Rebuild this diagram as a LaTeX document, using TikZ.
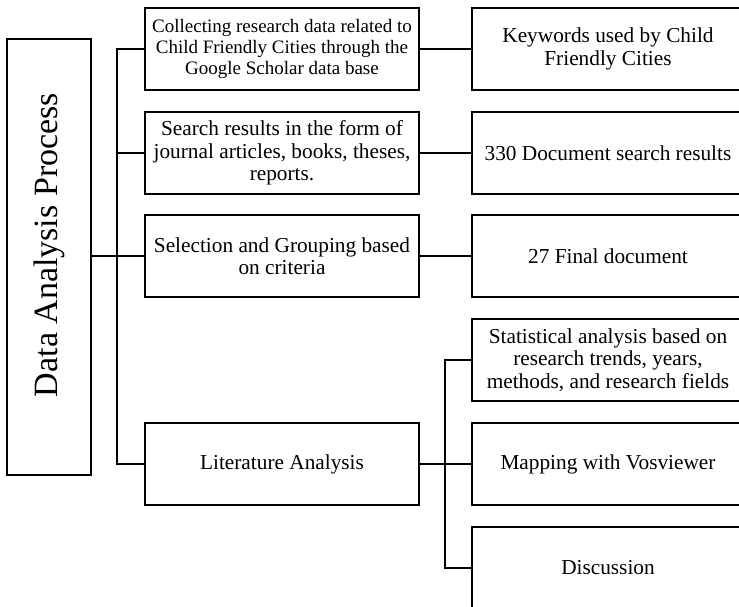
\documentclass[tikz,border=0pt]{standalone}
\usepackage{fontspec}
\setmainfont{Liberation Serif}
\begin{document}
\begin{tikzpicture}[x=1pt,y=-1pt,
  line width=1.6pt,
  every node/.style={inner sep=0pt},
  mbox/.style={draw, line width=1.6pt, minimum width=274pt, minimum height=82pt, align=center, font=\rmfamily\fontsize{21.3}{22.5}\selectfont},
  rbox/.style={draw, line width=1.6pt, minimum width=272pt, minimum height=82pt, align=center, font=\rmfamily\fontsize{21.3}{22.5}\selectfont},
  smalltext/.style={font=\rmfamily\fontsize{19}{21}\selectfont}]
\useasboundingbox (0,0) rectangle (739,607);
\clip (0,0) rectangle (739,607);
\node[draw, line width=1.6pt, minimum width=84pt, minimum height=436pt] (main) at (49,257) {};
\node[rotate=90, font=\rmfamily\fontsize{34}{40}\selectfont] (mainlbl) at (49,245) {Data Analysis Process};
\node[mbox, smalltext] (m1) at (282,49) {Collecting research data related to\\Child Friendly Cities through the\\Google Scholar data base};
\node[mbox] (m2) at (282,153) {Search results in the form of\\journal articles, books, theses,\\reports.};
\node[mbox] (m3) at (282,256) {Selection and Grouping based\\on criteria};
\node[mbox] (m4) at (282,464) {Literature Analysis};
\node[rbox] (r1) at (608,49) {Keywords used by Child\\Friendly Cities};
\node[rbox] (r2) at (608,153) {330 Document search results};
\node[rbox] (r3) at (608,256) {27 Final document};
\node[rbox] (r4) at (608,360) {Statistical analysis based on\\research trends, years,\\methods, and research fields};
\node[rbox] (r5) at (608,464) {Mapping with Vosviewer};
\node[rbox] (r6) at (608,568) {Discussion};
\draw (main.east |- m3.west) -- (m3.west);
\draw (m1.west) -- ++(-27,0) coordinate (t1) |- (m4.west);
\draw (m2.west) -- (m2.west -| t1);
\draw (m1.east) -- (r1.west);
\draw (m2.east) -- (r2.west);
\draw (m3.east) -- (r3.west);
\draw (m4.east) -- (r5.west);
\draw (r4.west) -- ++(-26,0) |- (r6.west);
\end{tikzpicture}
\end{document}
